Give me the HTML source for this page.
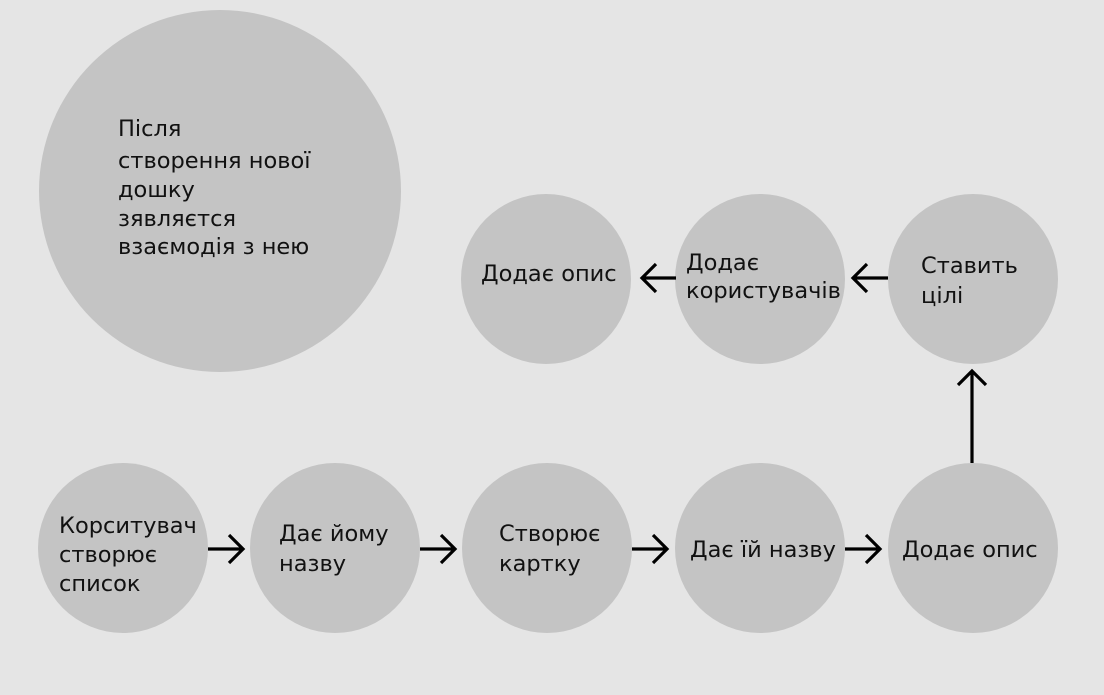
<!DOCTYPE html>
<html><head><meta charset="utf-8"><style>
body{margin:0;width:1104px;height:695px;background:#e5e5e5;overflow:hidden;font-family:"DejaVu Sans","Liberation Sans",sans-serif}
</style></head><body>
<svg width="1104" height="695" xmlns="http://www.w3.org/2000/svg" style="position:absolute;left:0;top:0">
<rect width="1104" height="695" fill="#e5e5e5"/>
<g fill="#c4c4c4">
<circle cx="220" cy="191" r="181"/>
<circle cx="123" cy="548" r="85"/>
<circle cx="335" cy="548" r="85"/>
<circle cx="547" cy="548" r="85"/>
<circle cx="760" cy="548" r="85"/>
<circle cx="973" cy="548" r="85"/>
<circle cx="546" cy="279" r="85"/>
<circle cx="760" cy="279" r="85"/>
<circle cx="973" cy="279" r="85"/>
</g>
<g stroke="#000" stroke-width="3.2" fill="none" stroke-linecap="butt">
<path d="M208 549H243M229 535L243 549L229 563"/>
<path d="M420 549H455M441 535L455 549L441 563"/>
<path d="M632 549H667M653 535L667 549L653 563"/>
<path d="M845 549H880M866 535L880 549L866 563"/>
<path d="M972 463V371M958 385L972 371L986 385"/>
<path d="M888 278H853M867 264L853 278L867 292"/>
<path d="M676 278H642M656 264L642 278L656 292"/>
</g>
<g font-size="22.5" fill="#111" font-family="DejaVu Sans, Liberation Sans, sans-serif">
<text x="118" y="136">Після</text>
<text x="118" y="168">створення нової</text>
<text x="118" y="197">дошку</text>
<text x="118" y="226">зявляєтся</text>
<text x="118" y="254">взаємодія з нею</text>
<text x="59" y="533">Корситувач</text>
<text x="59" y="562">створює</text>
<text x="59" y="591">список</text>
<text x="279" y="541">Дає йому</text>
<text x="279" y="571">назву</text>
<text x="499" y="541">Створює</text>
<text x="499" y="571">картку</text>
<text x="690" y="557">Дає їй назву</text>
<text x="902" y="557">Додає опис</text>
<text x="481" y="281">Додає опис</text>
<text x="686" y="270">Додає</text>
<text x="686" y="298">користувачів</text>
<text x="921" y="273">Ставить</text>
<text x="921" y="303">цілі</text>
</g>
</svg>
</body></html>
